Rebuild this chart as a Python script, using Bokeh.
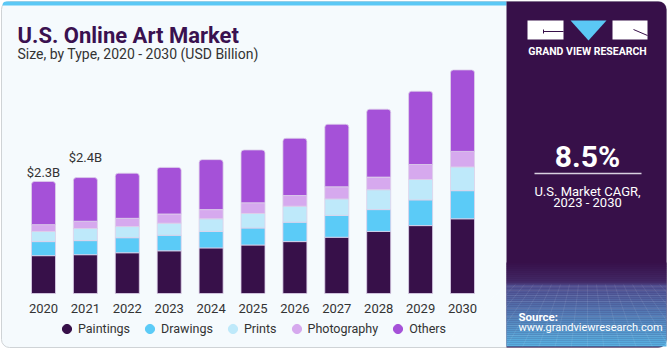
import numpy as np
from bokeh.plotting import figure
from bokeh.models import Range1d, ColumnDataSource, Legend, LegendItem
from bokeh.core.properties import value
from bokeh.embed import file_html
from bokeh.resources import INLINE

# ---------------- data ----------------
years = [2020, 2021, 2022, 2023, 2024, 2025, 2026, 2027, 2028, 2029, 2030]
year_labels = [str(y) for y in years]
paintings = [0.78, 0.80, 0.84, 0.88, 0.94, 1.00, 1.07, 1.16, 1.28, 1.40, 1.54]
drawings = [0.29, 0.29, 0.31, 0.32, 0.34, 0.35, 0.40, 0.45, 0.45, 0.53, 0.58]
prints = [0.21, 0.25, 0.23, 0.25, 0.26, 0.30, 0.33, 0.34, 0.41, 0.42, 0.49]
photography = [0.14, 0.15, 0.17, 0.19, 0.19, 0.22, 0.22, 0.25, 0.26, 0.31, 0.32]
others = [0.89, 0.90, 0.93, 0.96, 1.03, 1.09, 1.18, 1.29, 1.40, 1.51, 1.68]
series_names = ["Paintings", "Drawings", "Prints", "Photography", "Others"]
callout_years = [2020, 2021]
callout_text = ["$2.3B", "$2.4B"]
title_text = "U.S. Online Art Market"
subtitle_text = "Size, by Type, 2020 - 2030 (USD Billion)"
cagr_value = "8.5%"
cagr_lines = ["U.S. Market CAGR,", "2023 - 2030"]

# ---------------- styles / layout ----------------
colors = ["#371049", "#5bcbf7", "#bee9fa", "#d6a9ee", "#a551d8"]
FONT = value("Roboto")
W, H = 670, 350
x0_px, dx_px = 43.0, 41.9        # first bar centre, bar spacing (px)
base_px, ppb = 293.0, 48.5       # baseline (px from top), px per billion
bar_w_px = 24.0

p = figure(width=W, height=H,
           x_range=Range1d(years[0] - x0_px / dx_px, years[0] + (W - x0_px) / dx_px),
           y_range=Range1d(-(H - base_px) / ppb, base_px / ppb),
           min_border=0, x_axis_location=None, y_axis_location=None,
           toolbar_location=None, output_backend="svg",
           outline_line_color=None, background_fill_color="white",
           border_fill_color="white")
p.grid.visible = False
p.extra_x_ranges = {"px": Range1d(0, W)}
p.extra_y_ranges = {"px": Range1d(0, H)}


def Y(y):
    return H - y


PX = dict(x_range_name="px", y_range_name="px")

# card
p.quad(left=[1], right=[666], top=[Y(1)], bottom=[Y(347)], fill_color="#f5fafd",
       line_color="#cfd3d6", line_width=1, border_radius=8, **PX)
# top stripe
p.quad(left=[2], right=[506], top=[Y(1)], bottom=[Y(5)], fill_color="#5bc8f5",
       line_color=None, border_radius=(7, 0, 0, 0), **PX)
# right panel
p.quad(left=[506], right=[666], top=[Y(1)], bottom=[Y(347)], fill_color="#371049",
       line_color=None, border_radius=(0, 8, 8, 0), **PX)

# gradient at bottom of panel
stops_y = [262, 282, 285, 347]
stops_c = [(0x37, 0x10, 0x49), (0x43, 0x2a, 0x68), (0x50, 0x4e, 0x90), (0x58, 0xb4, 0xe4)]
ys = np.arange(262, 347, 2.0)
cols = []
for yy in ys:
    c = [int(round(np.interp(yy + 1, stops_y, [s[k] for s in stops_c]))) for k in range(3)]
    cols.append("#%02x%02x%02x" % tuple(c))
p.quad(left=506, right=666, top=[Y(v) for v in ys], bottom=[Y(min(v + 2.2, 346)) for v in ys],
       fill_color=cols, line_color=None, **PX)
# faint grid pattern
gx = np.arange(506, 667, 9.0)
p.segment(x0=gx, y0=Y(284), x1=[587 + (g - 587) * 1.8 for g in gx], y1=Y(346),
          line_color="white", line_alpha=0.12, line_width=0.7, **PX)
for gy in [286, 290, 295, 301, 308, 316, 325, 335]:
    p.segment(x0=[506], y0=[Y(gy)], x1=[666], y1=[Y(gy)], line_color="white",
              line_alpha=0.12, line_width=0.7, **PX)

# logo
p.quad(left=[527, 612], right=[563, 647], top=[Y(20), Y(20)], bottom=[Y(39), Y(39)],
       fill_color="white", line_color=None, **PX)
p.patch(x=[570, 606, 588], y=[Y(20), Y(20), Y(40)], fill_color="#5bc8f5", line_color=None, **PX)
p.segment(x0=[543, 543, 633], y0=[Y(31), Y(29), Y(29)], x1=[563, 543, 647], y1=[Y(31), Y(33), Y(35)],
          line_color="#371049", line_width=1, **PX)
p.text(x=[587], y=[Y(51)], text=["GRAND VIEW RESEARCH"], text_font=FONT, text_font_style="bold",
       text_font_size="10.5px", text_color="white", text_align="center", text_baseline="middle", **PX)

# CAGR
p.text(x=[587], y=[Y(156)], text=[cagr_value], text_font=FONT, text_font_style="bold",
       text_font_size="30px", text_color="white", text_align="center", text_baseline="middle", **PX)
p.segment(x0=[534], y0=[Y(173)], x1=[641], y1=[Y(173)], line_color="#d8d0e0", line_width=1.5, **PX)
p.text(x=[587, 587], y=[Y(191), Y(202)], text=cagr_lines, text_font=FONT,
       text_font_size="13px", text_color="white", text_align="center", text_baseline="middle", **PX)

# source
p.text(x=[518], y=[Y(316)], text=["Source:"], text_font=FONT, text_font_style="bold",
       text_font_size="11.5px", text_color="white", text_baseline="middle", **PX)
p.text(x=[518], y=[Y(327)], text=["www.grandviewresearch.com"], text_font=FONT,
       text_font_size="11px", text_color="white", text_baseline="middle", **PX)

# title
p.text(x=[17], y=[Y(35)], text=[title_text], text_font=FONT, text_font_style="bold",
       text_font_size="22px", text_color="#3a1150", text_baseline="alphabetic", **PX)
p.text(x=[17], y=[Y(53)], text=[subtitle_text], text_font=FONT,
       text_font_size="14px", text_color="#333333", text_baseline="alphabetic", **PX)

# bars
src = ColumnDataSource(dict(x=years, Paintings=paintings, Drawings=drawings, Prints=prints,
                            Photography=photography, Others=others))
rs = p.vbar_stack(series_names, x="x", width=bar_w_px / dx_px, fill_color=colors,
                  line_color="#ddd0ea", line_width=0.8, source=src)
rs[-1].glyph.border_radius = (3, 3, 0, 0)

# callouts
totals = [a + b + c + d + e for a, b, c, d, e in zip(paintings, drawings, prints, photography, others)]
csrc = ColumnDataSource(dict(x=callout_years, y=[totals[years.index(y)] for y in callout_years],
                             text=callout_text, off=[-9, -20]))
p.text(x="x", y="y", text="text", y_offset="off", source=csrc, text_font=FONT,
       text_font_size="13px", text_color="#333333", text_align="center",
       text_baseline="alphabetic")

# year labels
p.text(x=years, y=[Y(308)] * len(years), text=year_labels, text_font=FONT,
       text_font_size="13px", text_color="#333333", text_align="center",
       text_baseline="alphabetic", y_range_name="px")

# legend (markers kept off-canvas; only their legend swatches are shown)
items = []
for name, c in zip(series_names, colors):
    r = p.scatter(x=[-1e6], y=[-1e6], marker="circle", size=9, fill_color=c, line_color=c)
    items.append(LegendItem(label=name, renderers=[r]))
legend = Legend(items=items, orientation="horizontal", location=(55, H - 339.5),
                glyph_width=23, glyph_height=23, label_standoff=0, spacing=8,
                padding=0, margin=0, background_fill_alpha=0, border_line_alpha=0,
                label_text_font="Roboto", label_text_font_size="12.5px",
                label_text_color="#333333")
p.add_layout(legend)

open("out.html", "w").write(file_html(p, INLINE))
